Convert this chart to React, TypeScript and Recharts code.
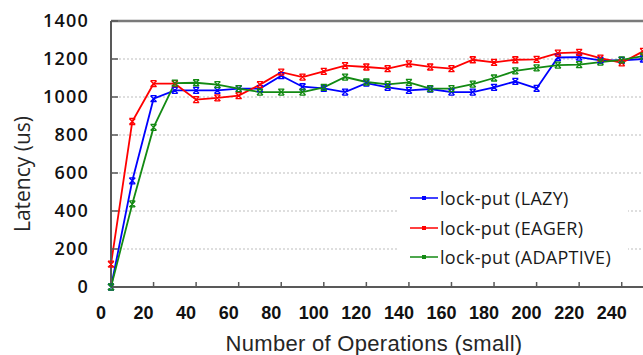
import { LineChart, Line, XAxis, YAxis, CartesianGrid, Legend, ReferenceLine } from "recharts";

// number of operations (x) and latency in us per mode
const operations = [0, 10, 20, 30, 40, 50, 60, 70, 80, 90, 100, 110, 120, 130, 140, 150, 160, 170, 180, 190, 200, 210, 220, 230, 240, 250];
const lazy = [0, 559, 991, 1035, 1035, 1035, 1044, 1044, 1112, 1054, 1045, 1026, 1073, 1051, 1035, 1042, 1026, 1026, 1051, 1082, 1045, 1208, 1210, 1193, 1193, 1200];
const eager = [120, 871, 1070, 1070, 986, 995, 1007, 1065, 1131, 1105, 1135, 1165, 1158, 1149, 1174, 1158, 1149, 1196, 1182, 1196, 1198, 1231, 1235, 1205, 1180, 1240];
const adaptive = [0, 437, 840, 1073, 1075, 1065, 1044, 1026, 1026, 1026, 1051, 1105, 1079, 1066, 1077, 1044, 1044, 1068, 1100, 1137, 1153, 1168, 1170, 1184, 1195, 1215];

const xTicks = [0, 20, 40, 60, 80, 100, 120, 140, 160, 180, 200, 220, 240];
const yTicks = [0, 200, 400, 600, 800, 1000, 1200, 1400];

const series = [
  { key: "lazy", name: "lock-put (LAZY)", color: "#0000ff" },
  { key: "eager", name: "lock-put (EAGER)", color: "#ff0000" },
  { key: "adaptive", name: "lock-put (ADAPTIVE)", color: "#138a13" },
];

const data = operations.map((ops, i) => ({
  ops,
  lazy: lazy[i],
  eager: eager[i],
  adaptive: adaptive[i],
}));

const AXIS = "#595959";

// little excel-style star marker (x with bars)
function StarDot(props: any) {
  const { cx, cy, stroke } = props;
  if (cx == null || cy == null) return null;
  const s = 3;
  return (
    <path
      d={`M${cx - s},${cy - s}L${cx + s},${cy + s}M${cx + s},${cy - s}L${cx - s},${cy + s}M${cx - s},${cy - s}H${cx + s}M${cx - s},${cy + s}H${cx + s}`}
      stroke={stroke}
      strokeWidth={1.3}
      fill="none"
    />
  );
}

function XTick(props: any) {
  const { x, y, payload } = props;
  return (
    <text
      x={x - 10}
      y={y}
      dy={13}
      textAnchor="middle"
      fontFamily="'Liberation Sans', Arial, sans-serif"
      fontWeight="bold"
      fontSize={18}
      fill="#111"
    >
      {payload.value}
    </text>
  );
}

function LegendBox() {
  return (
    <div style={{ position: "relative", width: 229, height: 95, background: "#fff", fontFamily: "'Open Sans', sans-serif" }}>
      {series.map((s, i) => (
        <div
          key={s.key}
          style={{ position: "absolute", left: 0, top: 18 + i * 29.5 - 12, height: 24, display: "flex", alignItems: "center" }}
        >
          <svg width={40} height={24} style={{ display: "block" }}>
            <line x1={11} y1={12} x2={39} y2={12} stroke={s.color} strokeWidth={1.5} />
            <rect x={23} y={10} width={4} height={4} fill={s.color} />
          </svg>
          <span style={{ fontSize: 18, letterSpacing: 0.3, color: "#1a1a1a", marginLeft: 1, whiteSpace: "nowrap" }}>{s.name}</span>
        </div>
      ))}
    </div>
  );
}

export default function App() {
  return (
    <div style={{ position: "absolute", left: 0, top: 0, width: 643, height: 355, background: "#fff" }}>
      <LineChart width={643} height={355} data={data} margin={{ top: 21, right: 0, bottom: 0, left: 0 }}>
        <CartesianGrid vertical={false} stroke="#bdbdbd" strokeDasharray="2 2" />
        <XAxis
          dataKey="ops"
          type="number"
          domain={[0, 250]}
          ticks={xTicks}
          interval={0}
          height={68}
          axisLine={{ stroke: AXIS, strokeWidth: 2 }}
          tickLine={{ stroke: AXIS, strokeWidth: 1.5 }}
          tickSize={-5}
          tickMargin={24}
          tick={<XTick />}
          label={{
            value: "Number of Operations (small)",
            content: () => (
              <text
                x={374}
                y={351}
                textAnchor="middle"
                fontFamily="'Liberation Sans', Arial, sans-serif"
                fontSize={22}
                letterSpacing={0.3}
                fill="#262626"
              >
                Number of Operations (small)
              </text>
            ),
          }}
        />
        <YAxis
          type="number"
          domain={[0, 1400]}
          ticks={yTicks}
          interval={0}
          width={111}
          axisLine={{ stroke: AXIS, strokeWidth: 2 }}
          tickLine={{ stroke: AXIS, strokeWidth: 1.5 }}
          tickSize={-7}
          tickMargin={29}
          tick={{ fill: "#111", fontSize: 18, fontWeight: 600, letterSpacing: 1.2, fontFamily: "'Open Sans', sans-serif" }}
          label={{
            value: "Latency (us)",
            content: () => (
              <text
                x={22}
                y={174}
                transform="rotate(-90, 22, 174)"
                textAnchor="middle"
                dominantBaseline="central"
                fontFamily="'Open Sans', sans-serif"
                fontSize={21}
                fill="#262626"
              >
                Latency (us)
              </text>
            ),
          }}
        />
        <ReferenceLine y={1400} stroke="#7a7a7a" strokeWidth={2.5} />
        <Legend
          layout="vertical"
          align="center"
          verticalAlign="middle"
          wrapperStyle={{ left: 399, top: 180, width: 229, height: 95 }}
          content={() => <LegendBox />}
        />
        {series.map((s) => (
          <Line
            key={s.key}
            dataKey={s.key}
            name={s.name}
            stroke={s.color}
            strokeWidth={1.8}
            dot={(p: any) => <StarDot key={p.index} {...p} stroke={s.color} />}
            activeDot={false}
            isAnimationActive={false}
          />
        ))}
      </LineChart>
    </div>
  );
}
